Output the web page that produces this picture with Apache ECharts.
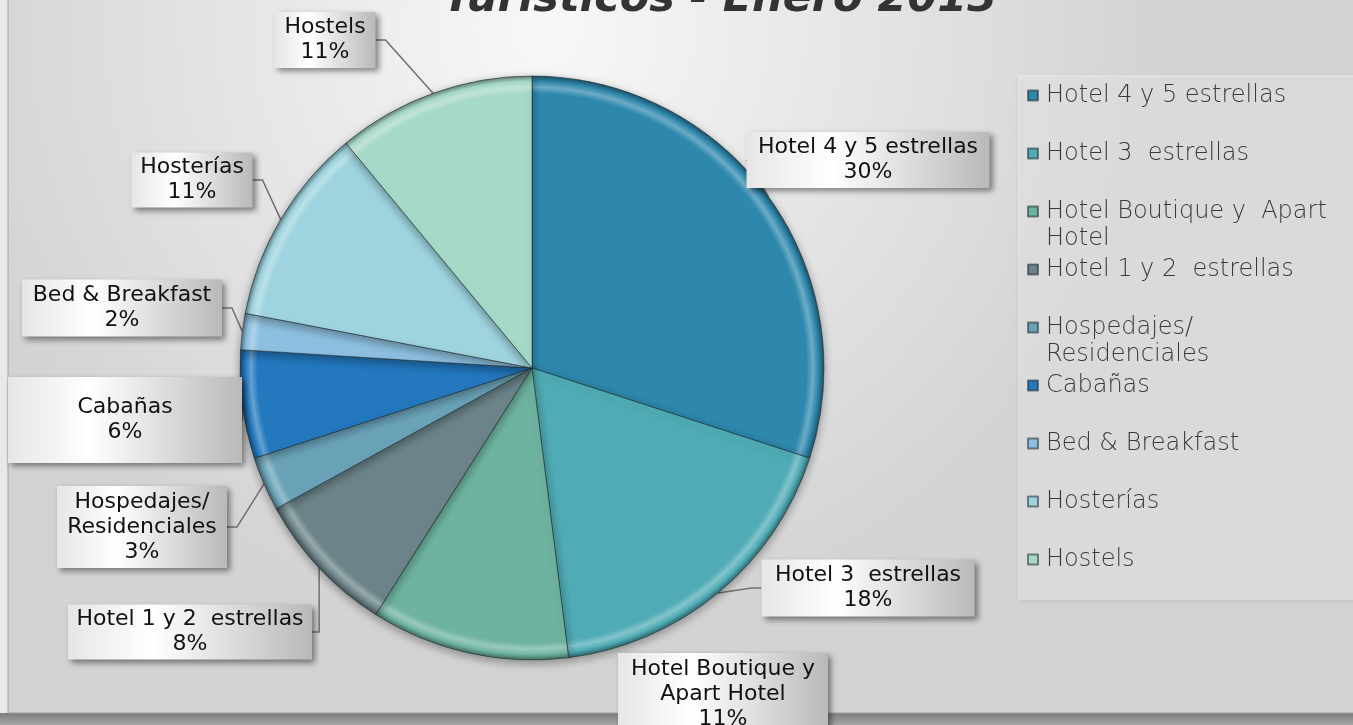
<!DOCTYPE html>
<html>
<head>
<meta charset="utf-8">
<script src="https://cdn.jsdelivr.net/npm/echarts@6/dist/echarts.min.js"></script>
<style>
html,body{margin:0;padding:0;background:#e9e9e9;}
#chart{width:1353px;height:725px;}
</style>
</head>
<body>
<div id="chart"></div>
<script>
// ---- data ----
const titleText = 'Turísticos - Enero 2013';
const categories = ['Hotel 4 y 5 estrellas', 'Hotel 3  estrellas', 'Hotel Boutique y  Apart Hotel',
  'Hotel 1 y 2  estrellas', 'Hospedajes/ Residenciales', 'Cabañas', 'Bed & Breakfast', 'Hosterías', 'Hostels'];
const values = [30, 18, 11, 8, 3, 6, 2, 11, 11];
const labelNames = ['Hotel 4 y 5 estrellas', 'Hotel 3  estrellas', 'Hotel Boutique y\nApart Hotel',
  'Hotel 1 y 2  estrellas', 'Hospedajes/\nResidenciales', 'Cabañas', 'Bed & Breakfast', 'Hosterías', 'Hostels'];
const legendNames = ['Hotel 4 y 5 estrellas', 'Hotel 3  estrellas', 'Hotel Boutique y  Apart\nHotel',
  'Hotel 1 y 2  estrellas', 'Hospedajes/\nResidenciales', 'Cabañas', 'Bed & Breakfast', 'Hosterías', 'Hostels'];

// ---- styles / layout ----
const colors = ['#2e88ad', '#4fabb5', '#6db39f', '#6c8489', '#6aa3b8', '#2378be', '#8dc0e0', '#9ed4df', '#a6d9c8'];
// label box: centre x, centre y, width, height
const labelBoxes = [
  [868, 160, 243, 56], [868, 588, 213, 57], [723, 694, 210, 82],
  [190, 632, 244, 55], [142, 527, 170, 82], [125, 420, 234, 86],
  [122, 308, 200, 57], [192, 180, 121, 55], [325, 40, 101, 56]
];
const noLine = [2];
const CX = 532, CY = 368, R = 292, LH = 25, LLH = 27;

function shade(hex, amt) {
  const n = parseInt(hex.slice(1), 16);
  let r = (n >> 16) & 255, g = (n >> 8) & 255, b = n & 255;
  const f = c => Math.max(0, Math.min(255, Math.round(amt >= 0 ? c + (255 - c) * amt : c * (1 + amt))));
  return 'rgb(' + f(r) + ',' + f(g) + ',' + f(b) + ')';
}
function bevel(c) {
  return {
    type: 'radial', x: CX, y: CY, r: R, global: true,
    colorStops: [
      { offset: 0, color: c }, { offset: 0.94, color: c },
      { offset: 0.962, color: shade(c, 0.3) }, { offset: 0.982, color: c },
      { offset: 1, color: shade(c, -0.4) }
    ]
  };
}

const seriesData = categories.map((n, i) => {
  const lines = labelNames[i].split('\n').length + 1;
  const b = labelBoxes[i];
  return {
    name: n, value: values[i],
    itemStyle: { color: bevel(colors[i]) },
    label: { width: b[2], padding: [3, 0, Math.max(0, b[3] - lines * LH - 3), 0] },
    labelLine: { show: noLine.indexOf(i) < 0 }
  };
});

// every legend entry is three text lines tall, first text line level with the icon
const isTwoLine = i => legendNames[i].indexOf('\n') >= 0;
const legendData = categories.map((n, i) => ({
  name: n, itemStyle: { color: colors[i] },
  textStyle: { padding: isTwoLine(i) ? [0, 0, 0, 3] : [LLH, 0, LLH, 3] }
}));

const chart = echarts.init(document.getElementById('chart'));
chart.setOption({
  backgroundColor: '#e9e9e9',
  animation: false,
  title: {
    text: titleText, left: 438, top: -27,
    textStyle: { fontSize: 43, fontWeight: 'bold', fontStyle: 'italic', color: '#333', fontFamily: 'DejaVu Sans' }
  },
  graphic: [
    { type: 'rect', z: -10, silent: true, shape: { x: 0, y: 713, width: 1353, height: 12 },
      style: { fill: { type: 'linear', x: 0, y: 0, x2: 0, y2: 1, colorStops: [{ offset: 0, color: '#7d7d7d' }, { offset: 1, color: '#a5a5a5' }] } } },
    { type: 'rect', z: -9, silent: true, shape: { x: 8, y: -5, width: 1350, height: 718 },
      style: { fill: { type: 'radial', x: 0.4, y: 0.05, r: 0.85, colorStops: [{ offset: 0, color: '#f8f8f8' }, { offset: 1, color: '#d3d3d3' }] },
        stroke: '#9e9e9e', lineWidth: 1 } },
    { type: 'rect', z: -8, silent: true, shape: { x: 1018, y: 75, width: 400, height: 525 },
      style: { fill: 'rgba(255,255,255,0.35)', shadowBlur: 4, shadowColor: 'rgba(0,0,0,0.18)', shadowOffsetY: 2 } }
  ],
  legend: {
    orient: 'vertical', left: 1022, top: 52, padding: [3, 5, 5, 5],
    icon: 'rect', itemWidth: 10, itemHeight: 10, itemGap: 58 - 3 * LLH,
    data: legendData,
    formatter: name => {
      const i = categories.indexOf(name);
      return (isTwoLine(i) ? ' \n' : '') + legendNames[i];
    },
    textStyle: { color: '#3a3a3a', fontFamily: 'DejaVu Sans', fontSize: 24, fontWeight: 300, lineHeight: LLH }
  },
  series: [{
    type: 'pie', center: [CX, CY], radius: R, startAngle: 90, clockwise: true,
    avoidLabelOverlap: false,
    data: seriesData,
    itemStyle: { borderColor: 'rgba(30,40,45,0.55)', borderWidth: 1, shadowBlur: 10, shadowColor: 'rgba(0,0,0,0.35)', shadowOffsetY: 3 },
    label: {
      show: true, position: 'outside',
      formatter: p => labelNames[p.dataIndex] + '\n' + p.value + '%',
      color: '#111', fontSize: 22, lineHeight: LH, fontFamily: 'DejaVu Sans', align: 'center',
      backgroundColor: { type: 'linear', x: 0, y: 0, x2: 1, y2: 0, colorStops: [{ offset: 0, color: '#e6e6e6' }, { offset: 0.35, color: '#ffffff' }, { offset: 1, color: '#b9b9b9' }] },
      shadowBlur: 6, shadowColor: 'rgba(0,0,0,0.45)', shadowOffsetX: 3, shadowOffsetY: 3
    },
    labelLine: { show: true, length: 15, length2: 10, lineStyle: { color: '#707070', width: 1.5 } },
    labelLayout: function (params) {
      const b = labelBoxes[params.dataIndex];
      return { x: b[0], y: b[1], align: 'center', verticalAlign: 'middle' };
    }
  }]
});
</script>
</body>
</html>
